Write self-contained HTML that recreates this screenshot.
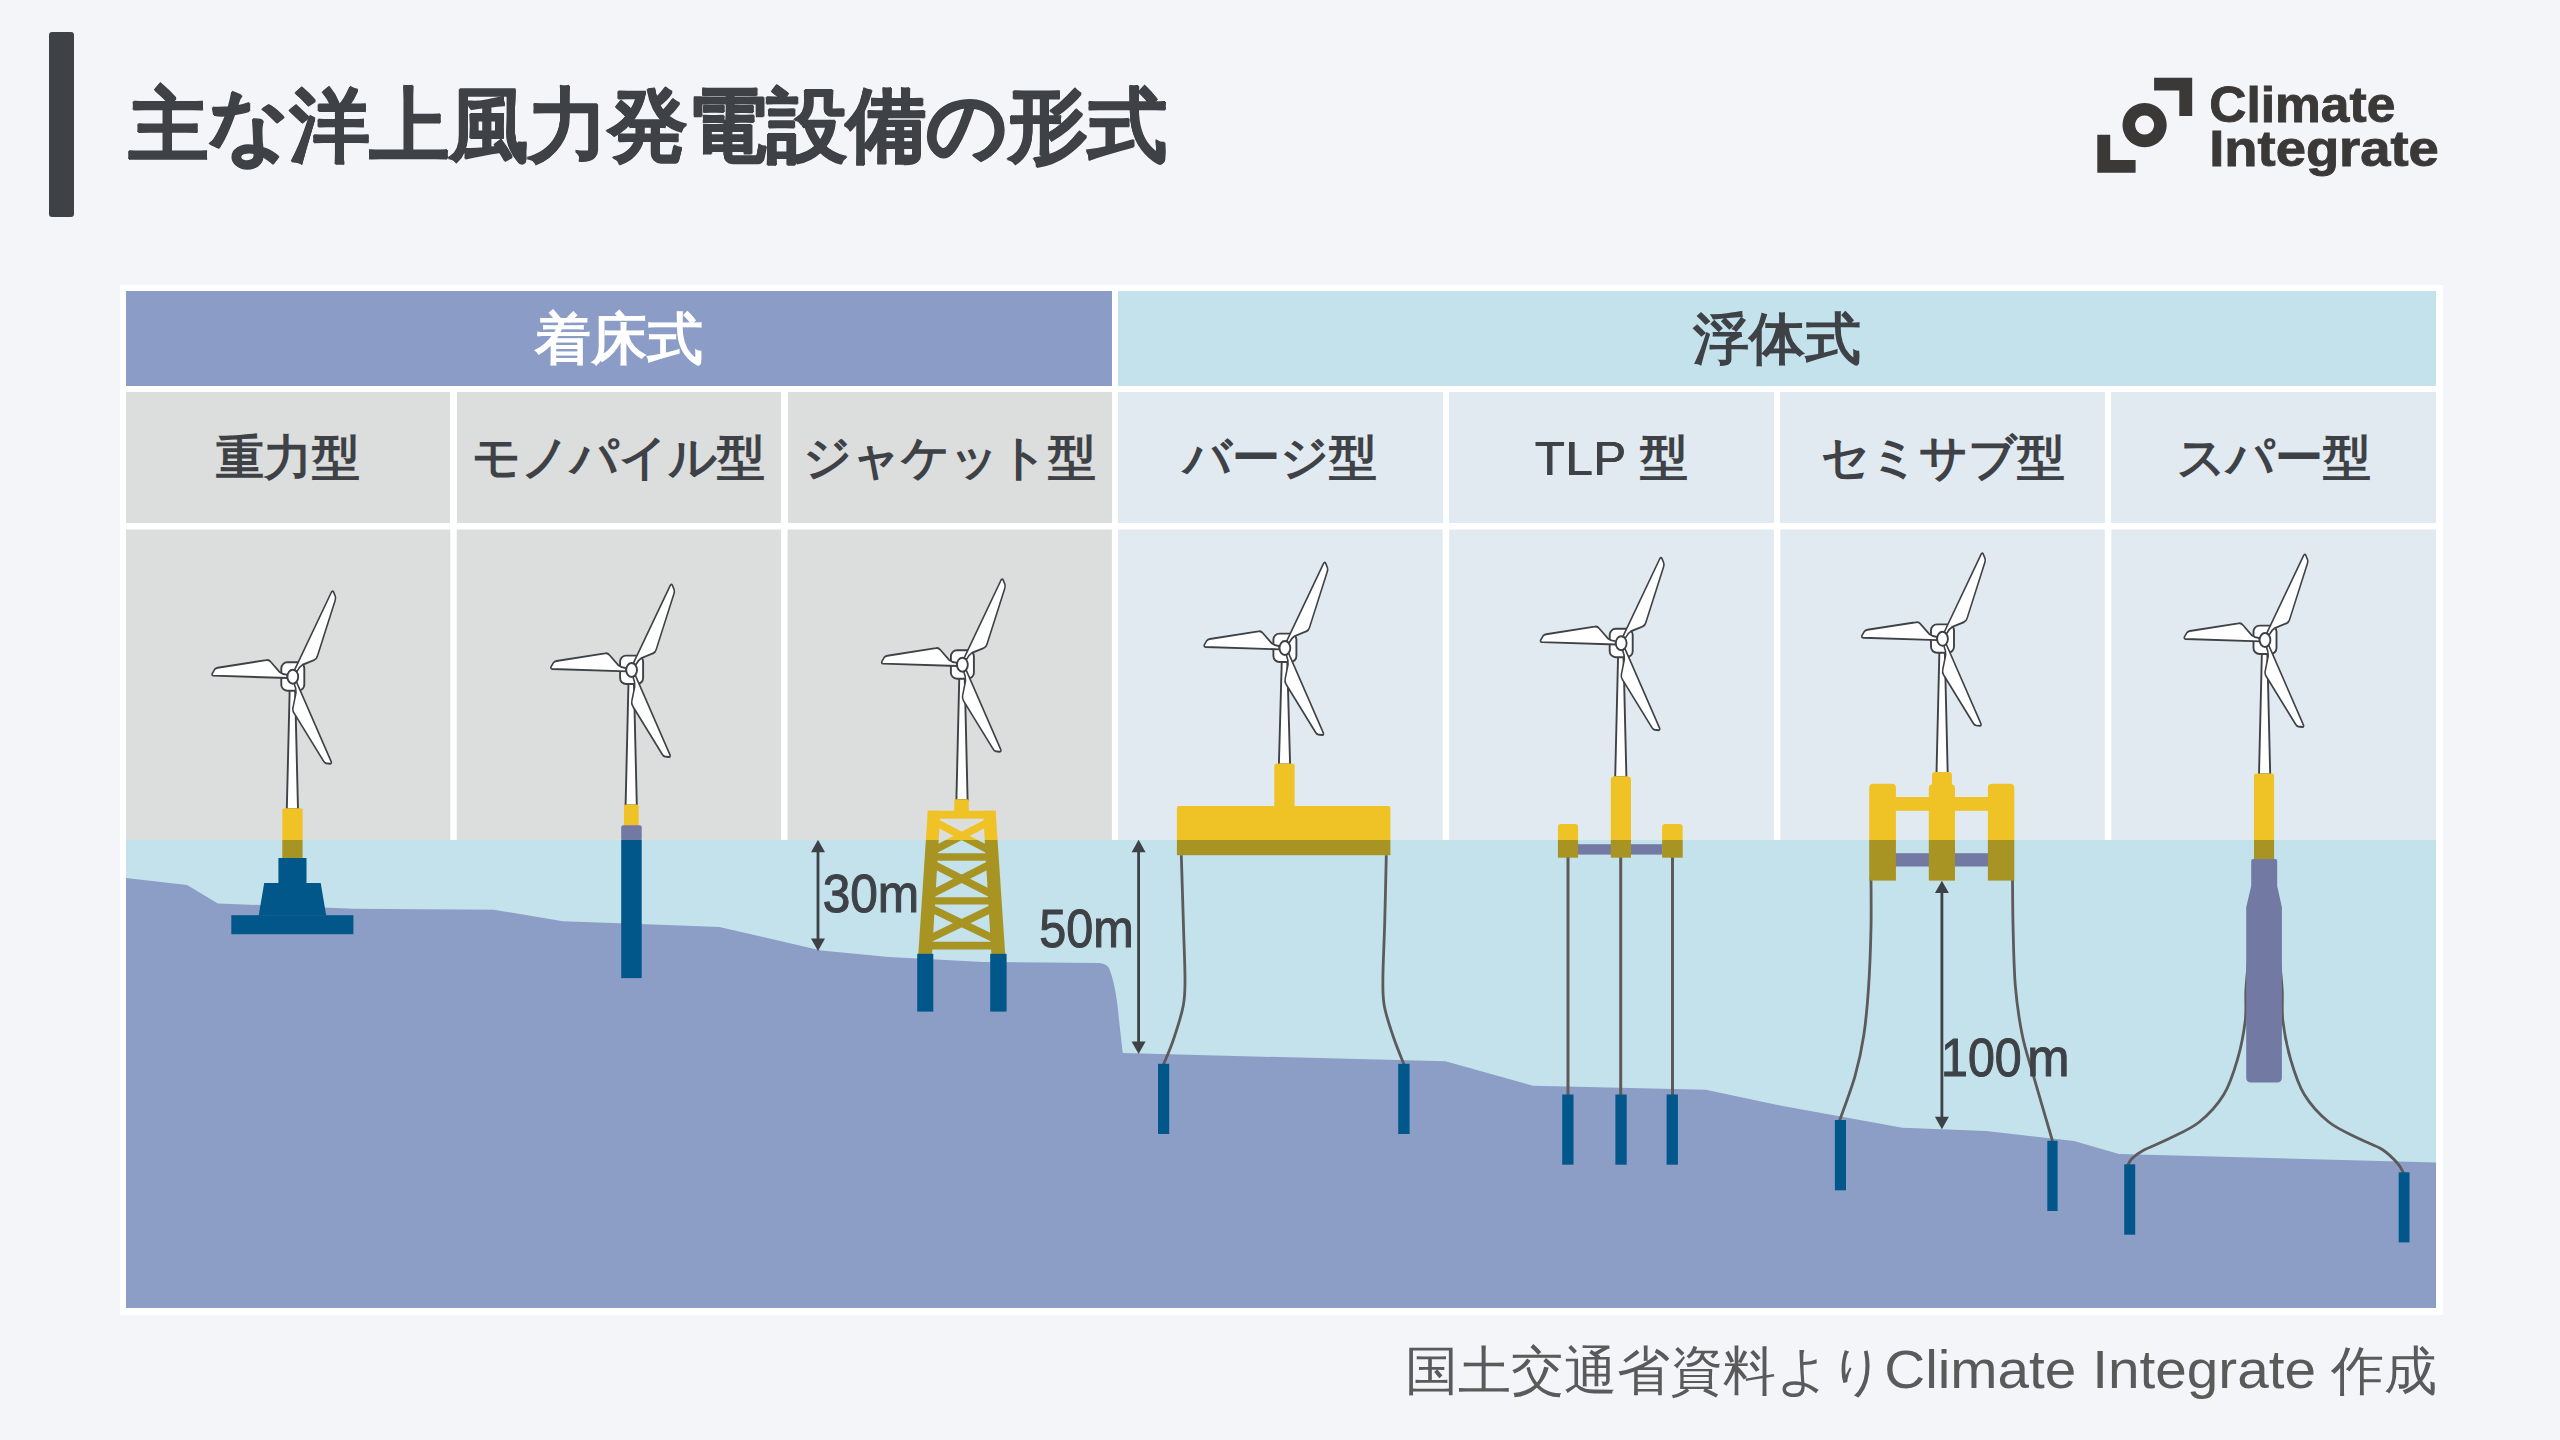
<!DOCTYPE html><html lang="ja"><head><meta charset="utf-8"><title>主な洋上風力発電設備の形式</title><style>
*{margin:0;padding:0;box-sizing:border-box}
html,body{width:2560px;height:1440px;overflow:hidden;background:#f4f5f9}
body{position:relative;font-family:"Liberation Sans",sans-serif;color:#3e4246}
.abs{position:absolute}
.bar{left:49px;top:32.4px;width:24.75px;height:185px;border-radius:3px;background:#3e4246}
.title{left:128.5px;top:70.5px;font-size:80px;font-weight:bold;line-height:110px;white-space:nowrap;letter-spacing:-0.45px;text-shadow:0.6px 0 0 #3e4246,-0.6px 0 0 #3e4246,0 0.6px 0 #3e4246,0 -0.6px 0 #3e4246}
.frame{left:119.5px;top:284.5px;width:2323px;height:1030px;background:#fff}
.cell{display:flex;align-items:center;justify-content:center;white-space:nowrap}
.h1{font-size:56px;font-weight:bold;padding-top:4px}
.h2{font-size:48px;font-weight:bold}
.foot{right:124px;top:1334px;font-size:52px;line-height:68px;color:#5a5a5a;white-space:nowrap}
.logo{left:2208px;top:78px;font-size:46px;font-weight:bold;line-height:44px;color:#3b3937;white-space:nowrap}
svg{position:absolute;left:0;top:0}

</style></head><body>
<div class="abs bar"></div>
<div class="abs title">主な洋上風力発電設備の形式</div>
<div class="abs frame"></div>
<div class="abs cell h1" style="left:126.00px;top:290.80px;width:985.90px;height:94.80px;background:#8b9dc7;color:#ffffff">着床式</div>
<div class="abs cell h1" style="left:1118.10px;top:290.80px;width:1317.90px;height:94.80px;background:#c4e2ec">浮体式</div>
<div class="abs cell h2" style="left:126.00px;top:392.30px;width:324.30px;height:130.50px;background:#dcdddd">重力型</div>
<div class="abs cell h2" style="left:456.80px;top:392.30px;width:324.30px;height:130.50px;background:#dcdddd">モノパイル型</div>
<div class="abs cell h2" style="left:787.60px;top:392.30px;width:324.30px;height:130.50px;background:#dcdddd">ジャケット型</div>
<div class="abs cell h2" style="left:1118.10px;top:392.30px;width:324.60px;height:130.50px;background:#e2eaf1">バージ型</div>
<div class="abs cell h2" style="left:1449.20px;top:392.30px;width:324.60px;height:130.50px;background:#e2eaf1"><span style="font-weight:normal;font-size:49px;letter-spacing:0.7px;text-shadow:0.45px 0 0 #3e4246,-0.45px 0 0 #3e4246">TLP</span>&nbsp;型</div>
<div class="abs cell h2" style="left:1780.30px;top:392.30px;width:324.60px;height:130.50px;background:#e2eaf1">セミサブ型</div>
<div class="abs cell h2" style="left:2111.40px;top:392.30px;width:324.60px;height:130.50px;background:#e2eaf1">スパー型</div>
<svg width="2560" height="1440" viewBox="0 0 2560 1440"><defs><clipPath id="ab"><rect x="0" y="0" width="2560" height="840.0"/></clipPath><clipPath id="bl"><rect x="0" y="840.0" width="2560" height="700"/></clipPath><path id="bl0" d="M6,-1.4 L96.8,0.2 Q99.2,0.4 98.2,2.4 L95.4,6.4 Q94.2,7.9 91.6,8.2 L32.5,16.3 Q29.2,16.9 27,14.6 L16.2,4.6 Q12.5,2.1 7.5,2 Z"/></defs><rect x="126.00" y="529.50" width="324.30" height="311.00" fill="#dcdddd"/><rect x="456.80" y="529.50" width="324.30" height="311.00" fill="#dcdddd"/><rect x="787.60" y="529.50" width="324.30" height="311.00" fill="#dcdddd"/><rect x="1118.10" y="529.50" width="324.60" height="311.00" fill="#e2eaf1"/><rect x="1449.20" y="529.50" width="324.60" height="311.00" fill="#e2eaf1"/><rect x="1780.30" y="529.50" width="324.60" height="311.00" fill="#e2eaf1"/><rect x="2111.40" y="529.50" width="324.60" height="311.00" fill="#e2eaf1"/><rect x="126.0" y="840.0" width="2310.0" height="468.0" fill="#c3e2ec"/><path d="M126,878 L187,885.1 L217.9,903.4 L353.6,908.7 L493.8,909.7 L562.8,921.3 L619.7,923.3 L719.2,927 L821,950.4 L888.8,957 L982.8,962 L1099,963.1 Q1106,963.5 1109,968 Q1116,985 1119,1020 L1122.7,1053.1 L1445.4,1061.3 L1533,1085.8 L1705.7,1089.8 L1780,1105.5 L1902.5,1127.7 L1986.2,1131 L2073.9,1141.1 L2119,1154 L2436,1162.5 L2436,1308 L126,1308 Z" fill="#8c9dc6"/><path d="M289.70,688.70 L295.10,688.70 L298.00,809.30 L286.80,809.30 Z" fill="#fff" stroke="#3e4246" stroke-width="1.9" stroke-linejoin="round"/><rect x="281.30" y="662.30" width="23" height="28.4" rx="6" fill="#fff" stroke="#3e4246" stroke-width="1.9"/><use href="#bl0" transform="translate(292.80,676.70) scale(0.82,1) rotate(-61.0)" fill="#fff" stroke="#3e4246" stroke-width="1.9" stroke-linejoin="round" vector-effect="non-scaling-stroke"/><use href="#bl0" transform="translate(292.80,676.70) scale(0.82,1) rotate(61.0)" fill="#fff" stroke="#3e4246" stroke-width="1.9" stroke-linejoin="round" vector-effect="non-scaling-stroke"/><use href="#bl0" transform="translate(292.80,676.70) scale(0.82,1) rotate(180.5)" fill="#fff" stroke="#3e4246" stroke-width="1.9" stroke-linejoin="round" vector-effect="non-scaling-stroke"/><ellipse cx="292.80" cy="676.70" rx="5.4" ry="7" fill="#fff" stroke="#3e4246" stroke-width="1.9"/><rect x="282.30" y="808.30" width="20.30" height="33.70" fill="#efc326" rx="2.00" clip-path="url(#ab)"/><rect x="282.30" y="840.00" width="20.30" height="18.30" fill="#a89422"/><rect x="278.40" y="858.00" width="28.10" height="25.30" fill="#02578a"/><path d="M264.2,883 L320.7,883 L326.2,915.4 L258.7,915.4 Z" fill="#02578a"/><rect x="231.30" y="915.20" width="122.10" height="19.00" fill="#02578a"/><path d="M628.50,682.00 L633.90,682.00 L636.80,805.50 L625.60,805.50 Z" fill="#fff" stroke="#3e4246" stroke-width="1.9" stroke-linejoin="round"/><rect x="620.10" y="655.60" width="23" height="28.4" rx="6" fill="#fff" stroke="#3e4246" stroke-width="1.9"/><use href="#bl0" transform="translate(631.60,670.00) scale(0.82,1) rotate(-61.0)" fill="#fff" stroke="#3e4246" stroke-width="1.9" stroke-linejoin="round" vector-effect="non-scaling-stroke"/><use href="#bl0" transform="translate(631.60,670.00) scale(0.82,1) rotate(61.0)" fill="#fff" stroke="#3e4246" stroke-width="1.9" stroke-linejoin="round" vector-effect="non-scaling-stroke"/><use href="#bl0" transform="translate(631.60,670.00) scale(0.82,1) rotate(180.5)" fill="#fff" stroke="#3e4246" stroke-width="1.9" stroke-linejoin="round" vector-effect="non-scaling-stroke"/><ellipse cx="631.60" cy="670.00" rx="5.4" ry="7" fill="#fff" stroke="#3e4246" stroke-width="1.9"/><rect x="624.00" y="804.50" width="14.70" height="22.00" fill="#efc326" rx="2.00"/><rect x="621.20" y="825.30" width="20.50" height="15.70" fill="#727aa4" rx="2.00"/><rect x="621.20" y="840.00" width="20.50" height="138.10" fill="#02578a"/><path d="M959.30,676.70 L964.70,676.70 L967.60,800.20 L956.40,800.20 Z" fill="#fff" stroke="#3e4246" stroke-width="1.9" stroke-linejoin="round"/><rect x="950.90" y="650.30" width="23" height="28.4" rx="6" fill="#fff" stroke="#3e4246" stroke-width="1.9"/><use href="#bl0" transform="translate(962.40,664.70) scale(0.82,1) rotate(-61.0)" fill="#fff" stroke="#3e4246" stroke-width="1.9" stroke-linejoin="round" vector-effect="non-scaling-stroke"/><use href="#bl0" transform="translate(962.40,664.70) scale(0.82,1) rotate(61.0)" fill="#fff" stroke="#3e4246" stroke-width="1.9" stroke-linejoin="round" vector-effect="non-scaling-stroke"/><use href="#bl0" transform="translate(962.40,664.70) scale(0.82,1) rotate(180.5)" fill="#fff" stroke="#3e4246" stroke-width="1.9" stroke-linejoin="round" vector-effect="non-scaling-stroke"/><ellipse cx="962.40" cy="664.70" rx="5.4" ry="7" fill="#fff" stroke="#3e4246" stroke-width="1.9"/><g clip-path="url(#ab)"><g fill="#efc326" stroke="#efc326" stroke-width="0"><rect x="954.2" y="799.2" width="14.6" height="13" rx="1.5"/><rect x="927.8" y="810.8" width="67.9" height="7.9"/><path d="M927.8,810.8 L940.4,810.8 L932,954.2 L918.3,954.2 Z"/><path d="M983,810.8 L995.6,810.8 L1005.2,954.2 L991.4,954.2 Z"/><path d="M926,853.2 L998,853.2 L998,860.7 L926,860.7 Z"/><path d="M924,897.2 L1000,897.2 L1000,904.5 L924,904.5 Z"/><path d="M921,941.8 L1003,941.8 L1003,949.5 L921,949.5 Z"/><line stroke-width="7.5" x1="933.42" y1="821.20" x2="991.96" y2="851.70"/><line stroke-width="7.5" x1="989.80" y1="821.20" x2="931.33" y2="851.70"/><line stroke-width="7.5" x1="930.87" y1="863.20" x2="994.72" y2="895.70"/><line stroke-width="7.5" x1="992.43" y1="863.20" x2="928.66" y2="895.70"/><line stroke-width="7.5" x1="928.22" y1="907.00" x2="997.52" y2="940.30"/><line stroke-width="7.5" x1="995.18" y1="907.00" x2="925.95" y2="940.30"/></g></g><g clip-path="url(#bl)"><g fill="#a89422" stroke="#a89422" stroke-width="0"><rect x="954.2" y="799.2" width="14.6" height="13" rx="1.5"/><rect x="927.8" y="810.8" width="67.9" height="7.9"/><path d="M927.8,810.8 L940.4,810.8 L932,954.2 L918.3,954.2 Z"/><path d="M983,810.8 L995.6,810.8 L1005.2,954.2 L991.4,954.2 Z"/><path d="M926,853.2 L998,853.2 L998,860.7 L926,860.7 Z"/><path d="M924,897.2 L1000,897.2 L1000,904.5 L924,904.5 Z"/><path d="M921,941.8 L1003,941.8 L1003,949.5 L921,949.5 Z"/><line stroke-width="7.5" x1="933.42" y1="821.20" x2="991.96" y2="851.70"/><line stroke-width="7.5" x1="989.80" y1="821.20" x2="931.33" y2="851.70"/><line stroke-width="7.5" x1="930.87" y1="863.20" x2="994.72" y2="895.70"/><line stroke-width="7.5" x1="992.43" y1="863.20" x2="928.66" y2="895.70"/><line stroke-width="7.5" x1="928.22" y1="907.00" x2="997.52" y2="940.30"/><line stroke-width="7.5" x1="995.18" y1="907.00" x2="925.95" y2="940.30"/></g></g><rect x="917.20" y="953.80" width="16.10" height="57.80" fill="#02578a"/><rect x="990.20" y="953.80" width="16.40" height="57.80" fill="#02578a"/><path d="M1281.80,660.00 L1287.20,660.00 L1290.10,764.50 L1278.90,764.50 Z" fill="#fff" stroke="#3e4246" stroke-width="1.9" stroke-linejoin="round"/><rect x="1273.40" y="633.60" width="23" height="28.4" rx="6" fill="#fff" stroke="#3e4246" stroke-width="1.9"/><use href="#bl0" transform="translate(1284.90,648.00) scale(0.82,1) rotate(-61.0)" fill="#fff" stroke="#3e4246" stroke-width="1.9" stroke-linejoin="round" vector-effect="non-scaling-stroke"/><use href="#bl0" transform="translate(1284.90,648.00) scale(0.82,1) rotate(61.0)" fill="#fff" stroke="#3e4246" stroke-width="1.9" stroke-linejoin="round" vector-effect="non-scaling-stroke"/><use href="#bl0" transform="translate(1284.90,648.00) scale(0.82,1) rotate(180.5)" fill="#fff" stroke="#3e4246" stroke-width="1.9" stroke-linejoin="round" vector-effect="non-scaling-stroke"/><ellipse cx="1284.90" cy="648.00" rx="5.4" ry="7" fill="#fff" stroke="#3e4246" stroke-width="1.9"/><rect x="1274.30" y="763.50" width="20.30" height="48.50" fill="#efc326" rx="2.00" clip-path="url(#ab)"/><rect x="1176.90" y="805.90" width="213.50" height="36.10" fill="#efc326" rx="2.00" clip-path="url(#ab)"/><rect x="1176.90" y="840.00" width="213.50" height="15.20" fill="#a89422"/><path d="M1181.30,855.20 C1181.68,867.67 1182.98,909.20 1183.60,930.00 C1184.22,950.80 1185.07,967.33 1185.00,980.00 C1184.93,992.67 1185.15,996.00 1183.20,1006.00 C1181.25,1016.00 1176.58,1030.25 1173.30,1040.00 C1170.02,1049.75 1165.13,1060.42 1163.50,1064.50" fill="none" stroke="#5c5a5a" stroke-width="2.8"/><path d="M1386.30,855.20 C1386.03,866.55 1385.27,902.83 1384.70,923.30 C1384.13,943.77 1382.97,964.22 1382.90,978.00 C1382.83,991.78 1382.57,996.22 1384.30,1006.00 C1386.03,1015.78 1390.02,1026.95 1393.30,1036.70 C1396.58,1046.45 1402.22,1059.87 1404.00,1064.50" fill="none" stroke="#5c5a5a" stroke-width="2.8"/><rect x="1158.00" y="1063.80" width="11.20" height="70.20" fill="#02578a"/><rect x="1398.20" y="1063.80" width="11.40" height="70.20" fill="#02578a"/><path d="M1618.10,655.20 L1623.50,655.20 L1626.40,777.30 L1615.20,777.30 Z" fill="#fff" stroke="#3e4246" stroke-width="1.9" stroke-linejoin="round"/><rect x="1609.70" y="628.80" width="23" height="28.4" rx="6" fill="#fff" stroke="#3e4246" stroke-width="1.9"/><use href="#bl0" transform="translate(1621.20,643.20) scale(0.82,1) rotate(-61.0)" fill="#fff" stroke="#3e4246" stroke-width="1.9" stroke-linejoin="round" vector-effect="non-scaling-stroke"/><use href="#bl0" transform="translate(1621.20,643.20) scale(0.82,1) rotate(61.0)" fill="#fff" stroke="#3e4246" stroke-width="1.9" stroke-linejoin="round" vector-effect="non-scaling-stroke"/><use href="#bl0" transform="translate(1621.20,643.20) scale(0.82,1) rotate(180.5)" fill="#fff" stroke="#3e4246" stroke-width="1.9" stroke-linejoin="round" vector-effect="non-scaling-stroke"/><ellipse cx="1621.20" cy="643.20" rx="5.4" ry="7" fill="#fff" stroke="#3e4246" stroke-width="1.9"/><line x1="1568.00" y1="857" x2="1568.00" y2="1095" stroke="#5c5a5a" stroke-width="3"/><line x1="1620.70" y1="857" x2="1620.70" y2="1095" stroke="#5c5a5a" stroke-width="3"/><line x1="1672.50" y1="857" x2="1672.50" y2="1095" stroke="#5c5a5a" stroke-width="3"/><rect x="1578.00" y="844.20" width="84.20" height="10.40" fill="#727aa4"/><rect x="1610.80" y="776.30" width="20.20" height="67.20" fill="#efc326" rx="3.50" clip-path="url(#ab)"/><rect x="1610.80" y="840.00" width="20.20" height="17.70" fill="#a89422"/><rect x="1557.90" y="824.00" width="20.20" height="19.00" fill="#efc326" rx="3.00" clip-path="url(#ab)"/><rect x="1557.90" y="840.00" width="20.20" height="17.70" fill="#a89422"/><rect x="1662.10" y="824.00" width="20.60" height="19.00" fill="#efc326" rx="3.00" clip-path="url(#ab)"/><rect x="1662.10" y="840.00" width="20.60" height="17.70" fill="#a89422"/><rect x="1562.20" y="1094.50" width="11.30" height="70.20" fill="#02578a"/><rect x="1615.40" y="1094.50" width="11.30" height="70.20" fill="#02578a"/><rect x="1666.60" y="1094.50" width="11.30" height="70.20" fill="#02578a"/><path d="M1939.40,650.80 L1944.80,650.80 L1947.70,773.50 L1936.50,773.50 Z" fill="#fff" stroke="#3e4246" stroke-width="1.9" stroke-linejoin="round"/><rect x="1931.00" y="624.40" width="23" height="28.4" rx="6" fill="#fff" stroke="#3e4246" stroke-width="1.9"/><use href="#bl0" transform="translate(1942.50,638.80) scale(0.82,1) rotate(-61.0)" fill="#fff" stroke="#3e4246" stroke-width="1.9" stroke-linejoin="round" vector-effect="non-scaling-stroke"/><use href="#bl0" transform="translate(1942.50,638.80) scale(0.82,1) rotate(61.0)" fill="#fff" stroke="#3e4246" stroke-width="1.9" stroke-linejoin="round" vector-effect="non-scaling-stroke"/><use href="#bl0" transform="translate(1942.50,638.80) scale(0.82,1) rotate(180.5)" fill="#fff" stroke="#3e4246" stroke-width="1.9" stroke-linejoin="round" vector-effect="non-scaling-stroke"/><ellipse cx="1942.50" cy="638.80" rx="5.4" ry="7" fill="#fff" stroke="#3e4246" stroke-width="1.9"/><path d="M1871.00,878.00 C1871.00,886.38 1871.40,910.18 1871.00,928.30 C1870.60,946.42 1869.80,968.87 1868.60,986.70 C1867.40,1004.53 1866.07,1020.40 1863.80,1035.30 C1861.53,1050.20 1859.03,1061.90 1855.00,1076.10 C1850.97,1090.30 1842.17,1113.10 1839.60,1120.50" fill="none" stroke="#5c5a5a" stroke-width="2.8"/><path d="M2012.50,878.00 C2012.60,886.38 2012.62,910.18 2013.10,928.30 C2013.58,946.42 2013.87,968.87 2015.40,986.70 C2016.93,1004.53 2019.37,1020.72 2022.30,1035.30 C2025.23,1049.88 2027.97,1056.58 2033.00,1074.20 C2038.03,1091.82 2049.25,1129.87 2052.50,1141.00" fill="none" stroke="#5c5a5a" stroke-width="2.8"/><rect x="1895.00" y="853.20" width="93.50" height="13.30" fill="#727aa4"/><rect x="1895.00" y="797.00" width="93.50" height="13.80" fill="#efc326"/><rect x="1932.00" y="771.90" width="19.90" height="18.10" fill="#efc326" rx="3.00" clip-path="url(#ab)"/><rect x="1928.80" y="784.30" width="26.20" height="59.70" fill="#efc326" rx="4.00" clip-path="url(#ab)"/><rect x="1928.80" y="840.00" width="26.20" height="40.60" fill="#a89422"/><rect x="1869.20" y="783.80" width="26.70" height="60.20" fill="#efc326" rx="4.00" clip-path="url(#ab)"/><rect x="1869.20" y="840.00" width="26.70" height="40.60" fill="#a89422"/><rect x="1987.90" y="783.80" width="26.40" height="60.20" fill="#efc326" rx="4.00" clip-path="url(#ab)"/><rect x="1987.90" y="840.00" width="26.40" height="40.60" fill="#a89422"/><rect x="1834.90" y="1120.00" width="11.10" height="70.30" fill="#02578a"/><rect x="2047.30" y="1140.80" width="10.30" height="70.20" fill="#02578a"/><path d="M2261.90,652.00 L2267.30,652.00 L2270.20,774.50 L2259.00,774.50 Z" fill="#fff" stroke="#3e4246" stroke-width="1.9" stroke-linejoin="round"/><rect x="2253.50" y="625.60" width="23" height="28.4" rx="6" fill="#fff" stroke="#3e4246" stroke-width="1.9"/><use href="#bl0" transform="translate(2265.00,640.00) scale(0.82,1) rotate(-61.0)" fill="#fff" stroke="#3e4246" stroke-width="1.9" stroke-linejoin="round" vector-effect="non-scaling-stroke"/><use href="#bl0" transform="translate(2265.00,640.00) scale(0.82,1) rotate(61.0)" fill="#fff" stroke="#3e4246" stroke-width="1.9" stroke-linejoin="round" vector-effect="non-scaling-stroke"/><use href="#bl0" transform="translate(2265.00,640.00) scale(0.82,1) rotate(180.5)" fill="#fff" stroke="#3e4246" stroke-width="1.9" stroke-linejoin="round" vector-effect="non-scaling-stroke"/><ellipse cx="2265.00" cy="640.00" rx="5.4" ry="7" fill="#fff" stroke="#3e4246" stroke-width="1.9"/><path d="M2248.55,960.00 C2248.11,965.00 2246.46,979.82 2245.90,990.00 C2245.34,1000.18 2246.60,1009.55 2245.20,1021.10 C2243.80,1032.65 2241.07,1047.07 2237.50,1059.30 C2233.93,1071.53 2230.17,1084.05 2223.80,1094.50 C2217.43,1104.95 2208.47,1114.62 2199.30,1122.00 C2190.13,1129.38 2178.18,1134.05 2168.80,1138.80 C2159.43,1143.55 2149.26,1147.13 2143.05,1150.50 C2136.84,1153.87 2134.12,1156.42 2131.55,1159.00 C2128.98,1161.58 2128.30,1164.83 2127.65,1166.00" fill="none" stroke="#5c5a5a" stroke-width="2.8"/><path d="M2279.55,960.00 C2279.99,965.00 2281.64,979.82 2282.20,990.00 C2282.76,1000.18 2281.50,1009.55 2282.90,1021.10 C2284.30,1032.65 2287.03,1047.07 2290.60,1059.30 C2294.17,1071.53 2297.93,1084.05 2304.30,1094.50 C2310.67,1104.95 2319.63,1114.62 2328.80,1122.00 C2337.97,1129.38 2350.40,1134.22 2359.30,1138.80 C2368.20,1143.38 2375.83,1145.43 2382.20,1149.50 C2388.57,1153.57 2393.93,1159.25 2397.50,1163.20 C2401.07,1167.15 2402.58,1171.53 2403.60,1173.20" fill="none" stroke="#5c5a5a" stroke-width="2.8"/><rect x="2254.00" y="773.50" width="20.10" height="68.50" fill="#efc326" rx="2.00" clip-path="url(#ab)"/><rect x="2254.00" y="840.00" width="20.10" height="19.50" fill="#a89422"/><path d="M2253.2,858.9 L2275.2,858.9 Q2277.2,858.9 2277.2,860.9 L2277.2,886 L2281.9,907.3 L2281.9,1077.5 Q2281.9,1082.5 2276.9,1082.5 L2251.2,1082.5 Q2246.2,1082.5 2246.2,1077.5 L2246.2,907.3 L2251.2,886 L2251.2,860.9 Q2251.2,858.9 2253.2,858.9 Z" fill="#727aa4"/><rect x="2124.20" y="1164.30" width="11.00" height="70.40" fill="#02578a"/><rect x="2398.70" y="1172.30" width="10.80" height="70.10" fill="#02578a"/><line x1="818.00" y1="847.80" x2="818.00" y2="942.90" stroke="#3e4246" stroke-width="2.8"/><path d="M818.00,839.80 L825.00,852.20 L811.00,852.20 Z" fill="#3e4246"/><path d="M818.00,950.90 L825.00,938.50 L811.00,938.50 Z" fill="#3e4246"/><line x1="1138.60" y1="847.80" x2="1138.60" y2="1045.90" stroke="#3e4246" stroke-width="2.8"/><path d="M1138.60,839.80 L1145.60,852.20 L1131.60,852.20 Z" fill="#3e4246"/><path d="M1138.60,1053.90 L1145.60,1041.50 L1131.60,1041.50 Z" fill="#3e4246"/><line x1="1941.90" y1="888.70" x2="1941.90" y2="1121.20" stroke="#3e4246" stroke-width="2.8"/><path d="M1941.90,880.70 L1948.90,893.10 L1934.90,893.10 Z" fill="#3e4246"/><path d="M1941.90,1129.20 L1948.90,1116.80 L1934.90,1116.80 Z" fill="#3e4246"/><text x="822.70" y="912.30" font-family="Liberation Sans, sans-serif" font-size="54.0" font-weight="normal" fill="#3e4246" text-anchor="start" textLength="96.50" lengthAdjust="spacingAndGlyphs" stroke="#3e4246" stroke-width="1.10">30m</text><text x="1039.30" y="947.40" font-family="Liberation Sans, sans-serif" font-size="54.0" font-weight="normal" fill="#3e4246" text-anchor="start" textLength="94.40" lengthAdjust="spacingAndGlyphs" stroke="#3e4246" stroke-width="1.10">50m</text><text x="1941.10" y="1076.00" font-family="Liberation Sans, sans-serif" font-size="54.0" font-weight="normal" fill="#3e4246" text-anchor="start" textLength="80.60" lengthAdjust="spacingAndGlyphs" stroke="#3e4246" stroke-width="1.10">100</text><text x="2027.30" y="1076.00" font-family="Liberation Sans, sans-serif" font-size="54.0" font-weight="normal" fill="#3e4246" text-anchor="start" textLength="42.20" lengthAdjust="spacingAndGlyphs" stroke="#3e4246" stroke-width="1.10">m</text><text x="2209.30" y="122.30" font-family="Liberation Sans, sans-serif" font-size="50.0" font-weight="bold" fill="#3b3937" text-anchor="start" textLength="186.00" lengthAdjust="spacingAndGlyphs" stroke="#3b3937" stroke-width="0.90">Climate</text><text x="2209.20" y="166.40" font-family="Liberation Sans, sans-serif" font-size="50.0" font-weight="bold" fill="#3b3937" text-anchor="start" textLength="229.70" lengthAdjust="spacingAndGlyphs" stroke="#3b3937" stroke-width="0.90">Integrate</text><text x="1404.5" y="1388.5" font-family="Liberation Sans, sans-serif" font-size="53.3" fill="#5a5a5a">国土交通省資料より</text><text x="1884.20" y="1387.60" font-family="Liberation Sans, sans-serif" font-size="53.3" font-weight="normal" fill="#5a5a5a" text-anchor="start" textLength="431.80" lengthAdjust="spacingAndGlyphs">Climate Integrate</text><text x="2437" y="1388.5" font-family="Liberation Sans, sans-serif" font-size="53.3" fill="#5a5a5a" text-anchor="end">作成</text><g fill="#3b3937"><path d="M2154.1,77.8 L2192.2,77.8 L2192.2,115.9 L2179.3,115.9 L2179.3,90.5 L2154.1,90.5 Z"/><path d="M2097.3,134.7 L2110.2,134.7 L2110.2,160 L2135.6,160 L2135.6,172.8 L2097.3,172.8 Z"/><path fill-rule="evenodd" d="M2144.6,103 a22.1,22.1 0 1,0 0.01,0 Z M2144.6,115.6 a9.5,9.5 0 1,1 -0.01,0 Z"/></g></svg>
</body></html>
